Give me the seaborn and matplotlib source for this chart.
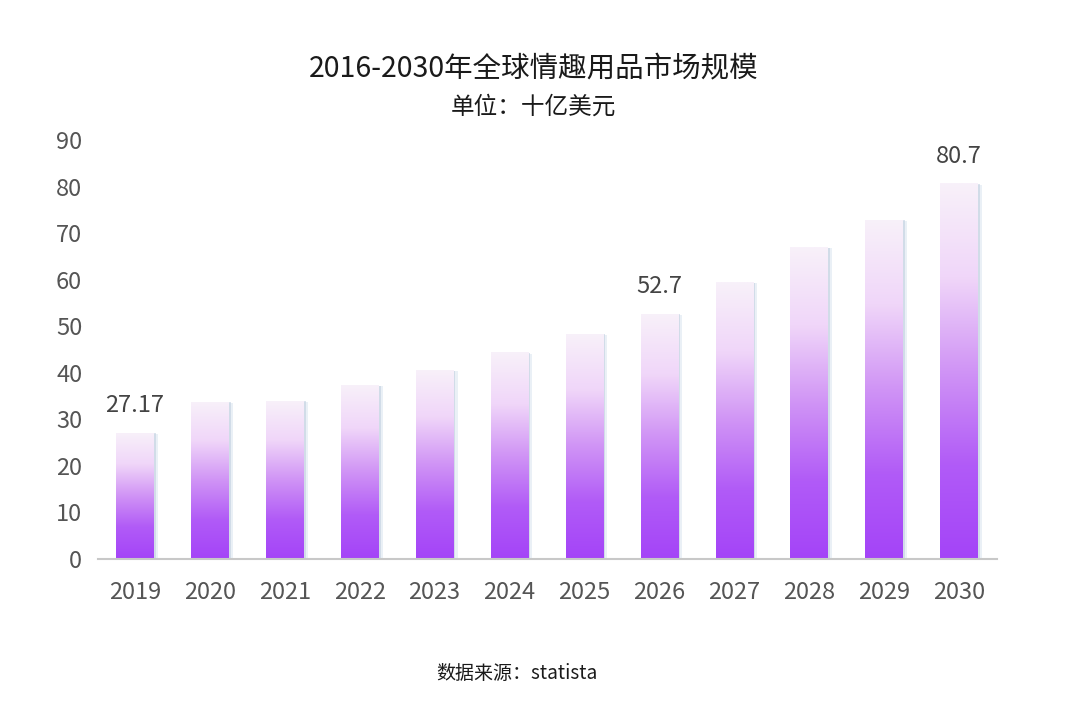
import numpy as np
import pandas as pd
import matplotlib.pyplot as plt
import matplotlib.patheffects as pe
from matplotlib.colors import LinearSegmentedColormap
import seaborn as sns

# values (十亿美元)
years = ['2019', '2020', '2021', '2022', '2023', '2024',
         '2025', '2026', '2027', '2028', '2029', '2030']
market_size = [27.17, 33.8, 34.0, 37.4, 40.6, 44.4,
               48.4, 52.7, 59.5, 67.0, 72.9, 80.7]
labelled = {'2019': '27.17', '2026': '52.7', '2030': '80.7'}

df = pd.DataFrame({'year': years, 'size': market_size})

sns.set_style('white')
plt.rcParams['font.family'] = ['Noto Sans CJK SC', 'DejaVu Sans']

fig = plt.figure(figsize=(10.8, 7.24), dpi=100)
ax = fig.add_axes([0.0903, 0.2279, 0.8324, 0.5787])

sns.barplot(data=df, x='year', y='size', width=0.5, color='#b45ef7',
            ax=ax, zorder=1)

# vertical gradient inside each bar, white-lilac at top to violet at bottom
grad_cmap = LinearSegmentedColormap.from_list(
    'bar', ['#a444f8', '#b15bf7', '#d094f5', '#f0d6f9', '#f8f1fa'])
grad = np.linspace(0, 1, 256).reshape(-1, 1)
for bar in ax.patches:
    x0, w, h = bar.get_x(), bar.get_width(), bar.get_height()
    bar.set_facecolor('none')
    bar.set_edgecolor('none')
    bar.set_path_effects([
        pe.SimplePatchShadow(offset=(3, -1), shadow_rgbFace='#dce6f0', alpha=0.6),
        pe.SimplePatchShadow(offset=(1.5, -0.5), shadow_rgbFace='#b9c9dc', alpha=0.5),
    ])
    im = ax.imshow(grad, extent=[x0, x0 + w, 0, h], origin='lower',
                   cmap=grad_cmap, aspect='auto', zorder=2)
    im.set_clip_path(bar)

ax.set_xlim(-0.5, len(years) - 0.5)
ax.set_ylim(0, 90)
ax.set_yticks(range(0, 91, 10))

for i, (yr, val) in enumerate(zip(years, market_size)):
    if yr in labelled:
        ax.annotate(labelled[yr], (i, val), xytext=(0, 11),
                    textcoords='offset points', ha='center', va='bottom',
                    fontsize=17, color='#444444')

for s in ['top', 'right', 'left']:
    ax.spines[s].set_visible(False)
ax.spines['bottom'].set_color('#c8c8c8')
ax.spines['bottom'].set_linewidth(1.5)
ax.spines['bottom'].set_zorder(3)

ax.tick_params(axis='x', length=0, pad=16, labelsize=17,
               labelcolor='#555555')
ax.tick_params(axis='y', length=0, pad=11, labelsize=17,
               labelcolor='#555555')
ax.set_xlabel('')
ax.set_ylabel('')

fig.text(0.494, 0.905, '2016-2030年全球情趣用品市场规模', ha='center',
         va='center', fontsize=20.5, color='#1a1a1a')
fig.text(0.494, 0.852, '单位：十亿美元', ha='center', va='center',
         fontsize=17, color='#1a1a1a')
fig.text(0.479, 0.070, '数据来源：statista', ha='center', va='center',
         fontsize=13.7, color='#1a1a1a')

plt.savefig('out.png', dpi=100)
